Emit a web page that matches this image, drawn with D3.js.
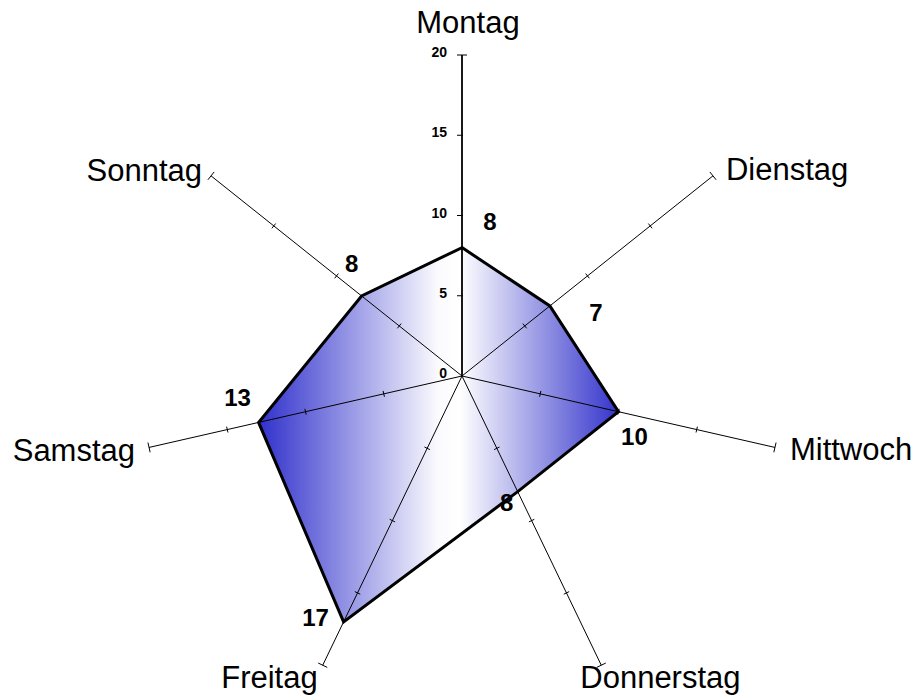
<!DOCTYPE html>
<html>
<head>
<meta charset="utf-8">
<script src="https://cdn.jsdelivr.net/npm/d3@7"></script>
<style>
  body { margin: 0; background: #fff; }
  svg { display: block; font-family: "Liberation Sans", Arial, sans-serif; }
</style>
</head>
<body>
<svg id="canvas" width="919" height="697"></svg>
<script>
let days = ["Montag", "Dienstag", "Mittwoch", "Donnerstag", "Freitag", "Samstag", "Sonntag"]
let values = [8, 7, 10, 8, 17, 13, 8]
let tickValues = [0, 5, 10, 15, 20]

// layout tweaks (where Excel put the labels)
let valueLabelShift = [[28, -26], [46, 7], [16, 25], [-11, 11], [-28, -4], [-21, -25], [-10, -32]]
let dayLabelShift = [[6, -33, "middle"], [13, -6, "start"], [15, 2, "start"], [-21, 12, "start"],
                     [-5, 12, "end"], [-14, 3, "end"], [-9, -5, "end"]]

let canvas = d3.select("#canvas")
let cx = 462, cy = 376

let r = d3.scaleLinear().domain([0, 20]).range([0, 321])
let angle = d3.scaleLinear().domain([0, days.length]).range([0, 2 * Math.PI])

let point = (i, v) => {
    let a = angle(i)
    return [cx + r(v) * Math.sin(a), cy - r(v) * Math.cos(a)]
}

let grad = canvas.append("defs").append("linearGradient")
    .attr("id", "fillGrad")
    .attr("x1", 0).attr("x2", 1).attr("y1", 0).attr("y2", 0)
grad.append("stop").attr("offset", "0%").attr("stop-color", "#3030cc")
grad.append("stop").attr("offset", "50%").attr("stop-color", "#fbfbfe")
grad.append("stop").attr("offset", "56%").attr("stop-color", "#ffffff")
grad.append("stop").attr("offset", "100%").attr("stop-color", "#3434cc")

let pts = values.map((v, i) => point(i, v))

// fill
canvas.append("polygon")
    .attr("points", pts.map(p => p.join(",")).join(" "))
    .attr("fill", "url(#fillGrad)")

// axes
let axes = canvas.selectAll("g.axis")
    .data(days)
    .enter()
    .append("g")
    .attr("class", "axis")

axes.append("line")
    .attr("x1", cx).attr("y1", cy)
    .attr("x2", (d, i) => point(i, 20)[0])
    .attr("y2", (d, i) => point(i, 20)[1])
    .attr("stroke", "#000")
    .attr("stroke-width", (d, i) => i === 0 ? 1.8 : 1)

axes.each(function (d, i) {
    let a = angle(i)
    let px = Math.cos(a), py = Math.sin(a) // perpendicular direction
    let left = t => t === 20 ? 5 : (i === 0 ? 5 : 3)
    let right = t => t === 20 ? 5 : (i === 0 ? 1 : 3)
    d3.select(this).selectAll("line.tick")
        .data(tickValues.slice(1))
        .enter()
        .append("line")
        .attr("class", "tick")
        .attr("x1", t => point(i, t)[0] - px * left(t))
        .attr("y1", t => point(i, t)[1] - py * left(t))
        .attr("x2", t => point(i, t)[0] + px * right(t))
        .attr("y2", t => point(i, t)[1] + py * right(t))
        .attr("stroke", "#000")
        .attr("stroke-width", 1)
})

// tick labels on first axis
canvas.selectAll("text.tickLabel")
    .data(tickValues)
    .enter()
    .append("text")
    .attr("class", "tickLabel")
    .attr("x", cx - 15)
    .attr("y", t => cy - r(t) - 3)
    .attr("text-anchor", "end")
    .attr("dominant-baseline", "central")
    .attr("font-size", "14px")
    .attr("font-weight", "bold")
    .text(t => t)

// outline
canvas.append("polygon")
    .attr("points", pts.map(p => p.join(",")).join(" "))
    .attr("fill", "none")
    .attr("stroke", "#000")
    .attr("stroke-width", 3)

// value labels
canvas.selectAll("text.valueLabel")
    .data(values)
    .enter()
    .append("text")
    .attr("class", "valueLabel")
    .attr("x", (v, i) => point(i, v)[0] + valueLabelShift[i][0])
    .attr("y", (v, i) => point(i, v)[1] + valueLabelShift[i][1])
    .attr("text-anchor", "middle")
    .attr("dominant-baseline", "central")
    .attr("font-size", "24px")
    .attr("font-weight", "bold")
    .text(v => v)

// day labels
canvas.selectAll("text.dayLabel")
    .data(days)
    .enter()
    .append("text")
    .attr("class", "dayLabel")
    .attr("x", (d, i) => point(i, 20)[0] + dayLabelShift[i][0])
    .attr("y", (d, i) => point(i, 20)[1] + dayLabelShift[i][1])
    .attr("text-anchor", (d, i) => dayLabelShift[i][2])
    .attr("dominant-baseline", "central")
    .attr("font-size", "31px")
    .text(d => d)
</script>
</body>
</html>
